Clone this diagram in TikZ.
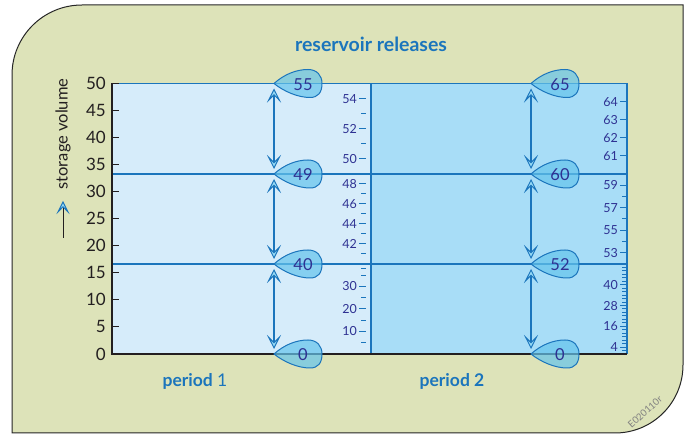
\documentclass[tikz,border=0pt]{standalone}
\usepackage{fontspec}
\setmainfont{Lato}
\usetikzlibrary{arrows.meta}
\definecolor{bg}{RGB}{221,227,185}
\definecolor{pone}{RGB}{214,236,250}
\definecolor{ptwo}{RGB}{168,221,247}
\definecolor{lblue}{RGB}{27,117,188}
\definecolor{tagc}{RGB}{100,196,236}
\definecolor{headc}{RGB}{150,218,245}
\definecolor{ink}{RGB}{46,49,146}
\definecolor{axisc}{RGB}{35,31,32}
\tikzset{
  axlabel/.style={anchor=east, inner sep=0pt, text=axisc, font=\fontsize{17}{18}\selectfont},
  sclabel/.style={anchor=east, inner sep=0pt, text=ink, font=\fontsize{12.5}{14}\selectfont},
  tagnum/.style={inner sep=0pt, text=ink, font=\fontsize{16.5}{18}\selectfont},
  bluetext/.style={inner sep=0pt, text=lblue, font=\fontsize{17.5}{20}\selectfont\bfseries},
  gridline/.style={draw=lblue, line width=1.4pt},
  ticks/.style={draw=lblue, line width=1pt},
  headtip/.tip={Stealth[length=14pt,width=14pt,inset=7pt,fill=headc,line width=0.9pt]},
  dbl/.style={draw=lblue, line width=1.2pt, shorten <=5pt, shorten >=5pt, headtip-headtip},
  dropshape/.style={fill=tagc, fill opacity=0.7, draw=lblue, line width=1pt}
}
\newcommand{\dropat}[4]{%
  \begin{scope}[shift={(#1,#2)}]
    \path[dropshape] (0,0) .. controls (10,-9) and (22,-14) .. (34,-14)
      .. controls (43,-14) and (48,-8) .. (48,0)
      .. controls (48,9) and (44,14) .. (36,14)
      .. controls (24,14) and (10,8) .. (0,0) -- cycle;
    \node[tagnum] (#4) at (29,1) {#3};
  \end{scope}}
\begin{document}
\begin{tikzpicture}[x=1pt,y=-1pt]
\useasboundingbox (0,0) rectangle (686,435);
% frame
\draw[fill=bg, draw=black!85, line width=1pt] (12,433) -- (12,75)
  .. controls (12,36.3) and (43.3,5) .. (82,5) -- (683,5) -- (683,365)
  .. controls (683,402.6) and (652.6,433) .. (615,433) -- cycle;
% panels
\fill[pone] (112,83.5) rectangle (371,354);
\fill[ptwo] (371,83.5) rectangle (627,354);
% grid lines
\draw[gridline] (112,174) -- (627,174);
\draw[gridline] (112,264) -- (627,264);
\draw[gridline] (112,83.5) -- (627,83.5) -- (627,354);
\draw[gridline] (371,83.5) -- (371,354);
% middle scale
\foreach \v [evaluate=\v as \yy using 83.5+(55-\v)*15.083] in {53,51} {\draw[ticks] (361,\yy) -- (366,\yy);}
\foreach \v [evaluate=\v as \yy using 83.5+(55-\v)*15.083] in {54,52,50} {\draw[ticks] (359,\yy) -- (366,\yy); \node[sclabel] (ma\v) at (357,\yy) {\v};}
\foreach \v [evaluate=\v as \yy using 174+(49-\v)*10] in {47,45,43,41} {\draw[ticks] (361,\yy) -- (366,\yy);}
\foreach \v [evaluate=\v as \yy using 174+(49-\v)*10] in {48,46,44,42} {\draw[ticks] (359,\yy) -- (366,\yy); \node[sclabel] (mb\v) at (357,\yy) {\v};}
\foreach \v [evaluate=\v as \yy using 264+(40-\v)*2.25] in {38,35,25,15,5} {\draw[ticks] (361,\yy) -- (366,\yy);}
\foreach \v [evaluate=\v as \yy using 264+(40-\v)*2.25] in {30,20,10} {\draw[ticks] (359,\yy) -- (366,\yy); \node[sclabel] (mc\v) at (357,\yy) {\v};}
% right scale
\foreach \v [evaluate=\v as \yy using 83.5+(65-\v)*18.1] in {64,63,62,61} {\draw[ticks] (620,\yy) -- (627,\yy); \node[sclabel] (ra\v) at (618,\yy) {\v};}
\foreach \v [evaluate=\v as \yy using 174+(60-\v)*11.25] in {58,56,54} {\draw[ticks] (622,\yy) -- (627,\yy);}
\foreach \v [evaluate=\v as \yy using 174+(60-\v)*11.25] in {59,57,55,53} {\draw[ticks] (620,\yy) -- (627,\yy); \node[sclabel] (rb\v) at (618,\yy) {\v};}
\foreach \v [evaluate=\v as \yy using 264+(52-\v)*1.7308] in {50,48,...,2} {\draw[ticks] (622,\yy) -- (627,\yy);}
\foreach \v [evaluate=\v as \yy using 264+(52-\v)*1.7308] in {40,28,16,4} {\draw[ticks] (620,\yy) -- (627,\yy); \node[sclabel] (rc\v) at (618,\yy) {\v};}
% left axis
\draw[draw=axisc, line width=2pt] (112,83.5) -- (112,354) -- (627,354);
\foreach \v [evaluate=\v as \yy using 354-\v*5.41] in {0,5,...,50} {
  \draw[draw=axisc, line width=1pt] (112,\yy) -- (119,\yy);
  \node[axlabel] (yl\v) at (106,\yy) {\v};}
% axis title
\node[rotate=90, inner sep=0pt, text=axisc, font=\fontsize{16.5}{18}\selectfont] (ylab) at (63,134) {storage volume};
\coordinate (ya) at (63,238);
\coordinate (yb) at (63,201);
\draw[draw=axisc, line width=1pt, -{Stealth[length=13pt,width=13pt,inset=6.5pt,fill=headc,color=lblue,line width=0.9pt]}] (ya) -- (yb);
% arrow anchor points
\coordinate (L55) at (274,83.5);
\coordinate (L49) at (274,174);
\coordinate (L40) at (274,264);
\coordinate (L0) at (274,354);
\coordinate (R65) at (531,83.5);
\coordinate (R60) at (531,174);
\coordinate (R52) at (531,264);
\coordinate (R0) at (531,354);
\draw[dbl] (L55) -- (L49);
\draw[dbl] (L49) -- (L40);
\draw[dbl] (L40) -- (L0);
\draw[dbl] (R65) -- (R60);
\draw[dbl] (R60) -- (R52);
\draw[dbl] (R52) -- (R0);
% drops
\dropat{274}{83.5}{55}{t55}
\dropat{274}{174}{49}{t49}
\dropat{274}{264}{40}{t40}
\dropat{274}{354}{0}{t0a}
\dropat{531}{83.5}{65}{t65}
\dropat{531}{174}{60}{t60}
\dropat{531}{264}{52}{t52}
\dropat{531}{354}{0}{t0b}
% titles
\node[bluetext, font=\fontsize{19.5}{22}\selectfont\bfseries] (title) at (371,44) {reservoir releases};
\node[bluetext] (p1) at (195,381) {period \mdseries 1};
\node[bluetext] (p2) at (452,381) {period 2};
\node[rotate=42, inner sep=0pt, text=black!50, font=\fontsize{9.5}{10}\selectfont] (code) at (645,412) {E020110r};
\end{tikzpicture}
\end{document}
